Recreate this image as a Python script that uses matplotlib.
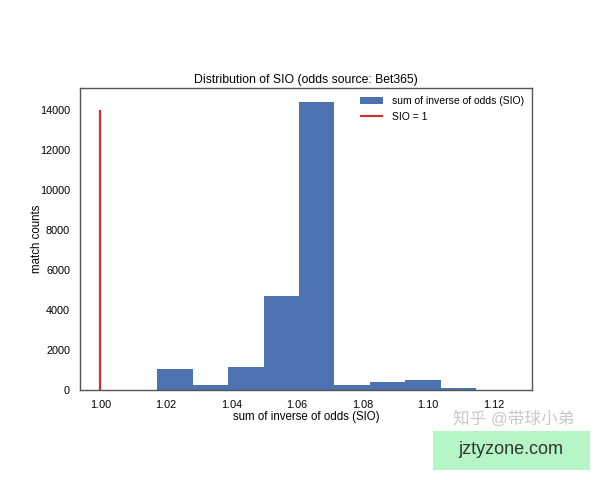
import numpy as np
import matplotlib
matplotlib.use("Agg")
import matplotlib.pyplot as plt
from matplotlib.patches import Rectangle

# histogram of SIO values, 10 bins
bin_edges = np.linspace(1.0174, 1.1256, 11)
bin_counts = [1030, 270, 1130, 4670, 14360, 230, 420, 500, 80, 5]
sio_line_x = 1.00
sio_line_top = 14000

plt.rcParams['font.family'] = ['Liberation Sans', 'Noto Sans CJK SC', 'DejaVu Sans']

fig = plt.figure(figsize=(6, 4.8), dpi=100)
ax = fig.add_axes([0.133, 0.1875, 0.754, 0.629])

widths = np.diff(bin_edges)
bars = ax.bar(bin_edges[:-1], bin_counts, width=widths, align='edge',
              color='#4C72B0', linewidth=0, label='sum of inverse of odds (SIO)')
vl = ax.vlines(sio_line_x, 0, sio_line_top, color='#cc3333', linewidth=1.6, label='SIO = 1')

ax.set_xticks([1.00, 1.02, 1.04, 1.06, 1.08, 1.10, 1.12])
ax.set_xticklabels(['1.00', '1.02', '1.04', '1.06', '1.08', '1.10', '1.12'])
ax.set_yticks(range(0, 14001, 2000))
ax.tick_params(length=0, labelsize=7.8, pad=7)

ax.set_title('Distribution of SIO (odds source: Bet365)', fontsize=8.8, pad=4)
ax.set_xlabel('sum of inverse of odds (SIO)', fontsize=8.3, labelpad=1)
ax.set_ylabel('match counts', fontsize=8.3, labelpad=-2)

for s in ax.spines.values():
    s.set_color('#555555')
    s.set_linewidth(1.0)

ax.legend([bars, vl], ['sum of inverse of odds (SIO)', 'SIO = 1'],
          loc='upper right', frameon=False, fontsize=7.5, borderaxespad=0.4,
          handlelength=2.2)

# watermarks seen on the picture
fig.text(0.755, 0.128, '知乎 @带球小弟', fontsize=12, color='#c8c8c8', ha='left', va='center')
fig.patches.append(Rectangle((0.722, 0.021), 0.262, 0.081, transform=fig.transFigure,
                             facecolor='#b5f5c6', edgecolor='none'))
fig.text(0.852, 0.0625, 'jztyzone.com', fontsize=13, color='#333333', ha='center', va='center')

fig.savefig('out.png', dpi=100, facecolor='white')
